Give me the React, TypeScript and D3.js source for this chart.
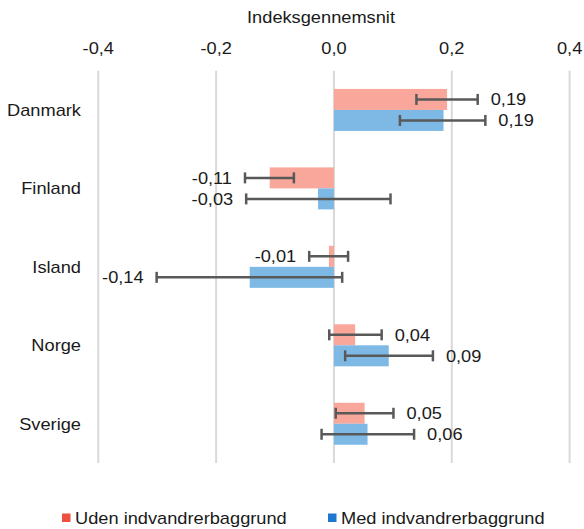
import React from "react";
import * as d3 from "d3";

const countries = ["Danmark", "Finland", "Island", "Norge", "Sverige"];
const seriesNames = ["Uden indvandrerbaggrund", "Med indvandrerbaggrund"];

const udenValues = [0.192, -0.109, -0.0085, 0.036, 0.052];
const udenLow = [0.14, -0.151, -0.042, -0.008, 0.003];
const udenHigh = [0.244, -0.068, 0.024, 0.081, 0.101];

const medValues = [0.186, -0.027, -0.143, 0.093, 0.057];
const medLow = [0.112, -0.149, -0.301, 0.019, -0.021];
const medHigh = [0.257, 0.096, 0.014, 0.168, 0.136];

const xTicks = [-0.4, -0.2, 0, 0.2, 0.4];
const axisTitle = "Indeksgennemsnit";

const W = 584;
const H = 529;
const FONT = "'Liberation Sans', Arial, sans-serif";
const STRETCH = 1.14;
const barColors = ["#F9A69B", "#7EB9E5"];
const legendColors = ["#EF4F3F", "#1E76CE"];
const errColor = "#595959";

const fmt = (v: number) => d3.format(".2f")(v).replace(".", ",").replace("−", "-");
const fmtTick = (v: number) => d3.format(".1f")(v).replace(".", ",").replace("−", "-");

function SText(props: {
  x: number;
  y: number;
  anchor?: "start" | "middle" | "end";
  size?: number;
  fill?: string;
  children: React.ReactNode;
}) {
  const { x, y, anchor = "start", size = 16, fill = "#1a1a1a", children } = props;
  return (
    <text
      transform={`translate(${x},${y}) scale(${STRETCH},1)`}
      textAnchor={anchor}
      fontFamily={FONT}
      fontSize={size}
      fill={fill}
    >
      {children}
    </text>
  );
}

export default function App() {
  const x = d3.scaleLinear().domain([-0.4, 0.4]).range([98.3, 569.6]);
  const y = d3.scaleBand<string>().domain(countries).range([70.7, 463]).padding(0);
  const groupH = 42;
  const inner = d3
    .scaleBand<number>()
    .domain([0, 1])
    .range([0, groupH])
    .padding(0);

  const series = [
    { values: udenValues, low: udenLow, high: udenHigh },
    { values: medValues, low: medLow, high: medHigh },
  ];

  const capH = 11;
  const labelGap = 13;

  return (
    <div style={{ position: "fixed", left: 0, top: 0 }}>
      <svg width={W} height={H} style={{ display: "block", background: "#fff" }}>
        <SText x={321} y={23} anchor="middle">
          {axisTitle}
        </SText>
        {xTicks.map((t) => (
          <g key={t}>
            <line
              x1={x(t)}
              x2={x(t)}
              y1={70.7}
              y2={463}
              stroke="#d9d9d9"
              strokeWidth={2}
            />
            <SText x={x(t)} y={54} anchor="middle">
              {fmtTick(t)}
            </SText>
          </g>
        ))}
        {countries.map((c, i) => {
          const top = (y(c) as number) + (y.bandwidth() - groupH) / 2;
          return (
            <g key={c}>
              <SText x={81} y={(y(c) as number) + y.bandwidth() / 2 + 6} anchor="end">
                {c}
              </SText>
              {series.map((s, k) => {
                const v = s.values[i];
                const by = top + (inner(k) as number);
                const bh = inner.bandwidth();
                const cy = by + bh / 2;
                const x0 = x(Math.min(0, v));
                const x1 = x(Math.max(0, v));
                const lo = x(s.low[i]);
                const hi = x(s.high[i]);
                return (
                  <g key={k}>
                    <rect x={x0} y={by} width={x1 - x0} height={bh} fill={barColors[k]} />
                    <g stroke={errColor} strokeWidth={2.5}>
                      <line x1={lo} x2={hi} y1={cy} y2={cy} />
                      <line x1={lo} x2={lo} y1={cy - capH / 2} y2={cy + capH / 2} />
                      <line x1={hi} x2={hi} y1={cy - capH / 2} y2={cy + capH / 2} />
                    </g>
                    {v >= 0 ? (
                      <SText x={hi + labelGap} y={cy + 6} anchor="start">
                        {fmt(v)}
                      </SText>
                    ) : (
                      <SText x={lo - labelGap} y={cy + 6} anchor="end">
                        {fmt(v)}
                      </SText>
                    )}
                  </g>
                );
              })}
            </g>
          );
        })}
        {seriesNames.map((n, k) => {
          const lx = k === 0 ? 62 : 328;
          return (
            <g key={n}>
              <rect x={lx} y={513.5} width={8.5} height={8.5} fill={legendColors[k]} />
              <SText x={lx + 13} y={524}>
                {n}
              </SText>
            </g>
          );
        })}
      </svg>
    </div>
  );
}
